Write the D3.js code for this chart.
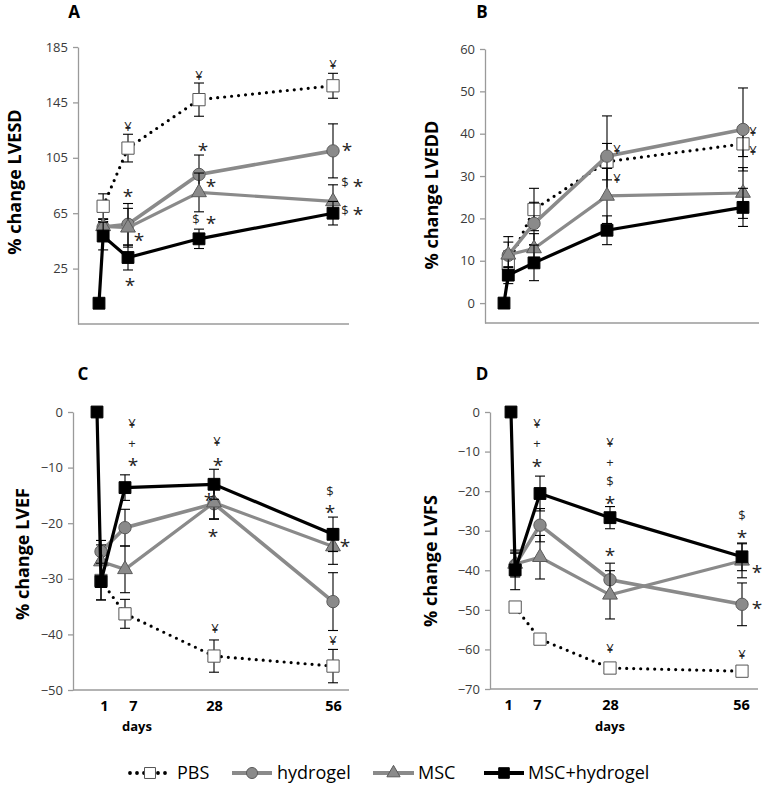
<!DOCTYPE html>
<html><head><meta charset="utf-8">
<script src="https://cdn.jsdelivr.net/npm/d3@7"></script>
<style>body{margin:0;background:#fff} svg{display:block}</style>
</head><body><svg id="c" width="764" height="793"></svg>
<script>
// ---------- data ----------
const days = [0, 1, 7, 28, 56];
const seriesNames = ["PBS", "hydrogel", "MSC", "MSC+hydrogel"];
const xTickLabels = [1, 7, 28, 56];

// order of rows: PBS, hydrogel, MSC, MSC+hydrogel
const lvesdMean = [
  [null, 70, 112, 147, 157],
  [null, 55, 57, 93, 110],
  [null, 55.5, 54.5, 80, 73.5],
  [0, 48.5, 33, 46.5, 65]
];
const lvesdErr = [
  [null, 9, 10, 12, 9],
  [null, 4, 15, 14, 19.5],
  [null, 5, 14, 14, 12],
  [0, 10, 9, 7, 8.5]
];
const lveddMean = [
  [null, 9.3, 22.1, 33.4, 37.6],
  [null, 11.3, 18.8, 34.7, 41],
  [null, 11.4, 12.9, 25.3, 26],
  [0, 6.6, 9.5, 17.2, 22.6]
];
const lveddErr = [
  [null, 3, 5, 4.3, 3],
  [null, 4.4, 5, 9.5, 9.8],
  [null, 3, 3.5, 6.5, 6],
  [0, 2, 4.2, 3.4, 4.5]
];
const lvefMean = [
  [null, -30.3, -36.3, -43.9, -45.7],
  [null, -25.1, -20.8, -16.5, -34.1],
  [null, -26.9, -28.3, -16.3, -24.2],
  [0, -30.5, -13.6, -13, -22]
];
const lvefErr = [
  [null, 3.5, 2.6, 2.9, 3],
  [null, 2, 3.3, 2.7, 5.2],
  [null, 3, 4.2, 3, 3.2],
  [0, 3.3, 2.3, 2.7, 3.1]
];
const lvfsMean = [
  [null, -49.3, -57.4, -64.7, -65.5],
  [null, -38.7, -28.6, -42.4, -48.6],
  [null, -38.4, -36.7, -46.2, -37.6],
  [0, -39.9, -20.6, -26.7, -36.6]
];
const lvfsErr = [
  [null, 0, 0, 0, 0],
  [null, 3, 4.2, 4.2, 5.4],
  [null, 3, 5.5, 6.1, 4.3],
  [0, 5, 4.4, 2.8, 3.5]
];

const lvesdTicks = [25, 65, 105, 145, 185];
const lveddTicks = [0, 10, 20, 30, 40, 50, 60];
const lvefTicks = [0, -10, -20, -30, -40, -50];
const lvfsTicks = [0, -10, -20, -30, -40, -50, -60, -70];

// significance marks: [day, value, symbol, pixel nudge]
const lvesdNotes = [
  [7, 128, "¥", 0], [28, 164.6, "¥", 0], [56, 172.5, "¥", 0],
  [7, 80, "*", 0], [7, 48, "*", 11], [7, 16, "*", 2],
  [28, 113, "*", 4], [28, 87, "*", 12], [28, 60.5, "$", -3], [28, 60.5, "*", 12],
  [56, 113, "*", 14], [56, 87, "$", 12], [56, 87, "*", 25], [56, 67, "$", 12], [56, 67, "*", 25]
];
const lveddNotes = [
  [28, 36.3, "¥", 10], [28, 29.4, "¥", 10], [56, 40.5, "¥", 10], [56, 36.1, "¥", 10]
];
const lvefNotes = [
  [7, -2, "¥", 7], [7, -5.6, "+", 7], [7, -8.9, "*", 8],
  [28, -5.3, "¥", 3], [28, -8.9, "*", 4], [28, -15.2, "*", -5], [28, -21.7, "*", -1],
  [56, -14.3, "$", -3], [56, -17.3, "*", -3], [56, -23.5, "*", 12],
  [28, -38.9, "¥", 1], [56, -41, "¥", 0]
];
const lvfsNotes = [
  [7, -2.9, "¥", -3], [7, -8, "+", -3], [7, -12.6, "*", -3],
  [28, -7.6, "¥", 0], [28, -12.6, "+", 0], [28, -17.4, "$", 0], [28, -22.1, "*", 0], [28, -35.3, "*", 0],
  [56, -26, "$", 0], [56, -30.7, "*", 0], [56, -39.5, "*", 15], [56, -48.6, "*", 15],
  [28, -59.7, "¥", 0], [56, -61.3, "¥", 0]
];

// ---------- layout ----------
const panels = [
  {letter: "A", lx: 74, ly: 18, title: "% change LVESD", tx: 15, ty: 182,
   mean: lvesdMean, err: lvesdErr, ticks: lvesdTicks, notes: lvesdNotes,
   yDomain: [-15, 185], yRange: [324, 47], axisX: 78, axisRight: 349,
   dayX: [99, 128, 199, 333], xLabels: false},
  {letter: "B", lx: 482, ly: 18, title: "% change LVEDD", tx: 432, ty: 195,
   mean: lveddMean, err: lveddErr, ticks: lveddTicks, notes: lveddNotes,
   yDomain: [-4.7, 60], yRange: [323, 49], axisX: 485, axisRight: 759,
   dayX: [504, 534, 607, 743], xLabels: false},
  {letter: "C", lx: 83, ly: 380, title: "% change LVEF", tx: 23, ty: 554,
   mean: lvefMean, err: lvefErr, ticks: lvefTicks, notes: lvefNotes,
   yDomain: [-50, 0], yRange: [690, 412], axisX: 73, axisRight: 349,
   dayX: [97, 125, 214, 333], xLabels: true, labelDx: [3, 8, 0, 0], daysX: 137},
  {letter: "D", lx: 482, ly: 380, title: "% change LVFS", tx: 431, ty: 561,
   mean: lvfsMean, err: lvfsErr, ticks: lvfsTicks, notes: lvfsNotes,
   yDomain: [-70, 0], yRange: [689, 412], axisX: 490, axisRight: 758,
   dayX: [511, 540, 610, 742], xLabels: true, labelDx: [-7, -3, 0, -1], daysX: 610}
];

const styles = [
  {stroke: "#000", width: 3.2, dash: "0 7", cap: "round", sym: d3.symbolSquare, size: 150, fill: "#fff", mstroke: "#555"},
  {stroke: "#8a8a8a", width: 3.6, dash: null, cap: "butt", sym: d3.symbolCircle, size: 120, fill: "#8a8a8a", mstroke: "#5a5a5a"},
  {stroke: "#8a8a8a", width: 3.2, dash: null, cap: "butt", sym: d3.symbolTriangle, size: 95, fill: "#8a8a8a", mstroke: "#5a5a5a"},
  {stroke: "#000", width: 3.2, dash: null, cap: "butt", sym: d3.symbolSquare, size: 140, fill: "#000", mstroke: "#000"}
];

const FONT = "'Open Sans', 'Noto Sans', sans-serif";
const svg = d3.select("#c").style("font-family", FONT);

panels.forEach(p => {
  const g = svg.append("g");
  const x = d3.scaleLinear().domain([0, 7, 28, 56]).range(p.dayX);
  const y = d3.scaleLinear().domain(p.yDomain).range(p.yRange);

  // y axis
  const ya = g.append("g").attr("transform", `translate(${p.axisX},0)`)
    .call(d3.axisLeft(y).tickValues(p.ticks).tickSize(5).tickSizeOuter(0).tickPadding(5));
  ya.select(".domain").attr("stroke", "#9a9a9a").attr("stroke-width", 1.3);
  ya.selectAll(".tick line").attr("stroke", "#9a9a9a").attr("stroke-width", 1.3);
  ya.selectAll(".tick text").attr("font-size", 13).attr("fill", "#3a3a3a").attr("font-family", FONT);

  // x axis line
  g.append("line").attr("x1", p.axisX).attr("x2", p.axisRight)
    .attr("y1", y(p.yDomain[0])).attr("y2", y(p.yDomain[0]))
    .attr("stroke", "#9a9a9a").attr("stroke-width", 1.3);
  if (p.xLabels) {
    const xa = g.append("g").attr("transform", `translate(0,${y(p.yDomain[0])})`)
      .call(d3.axisBottom(x).tickValues(xTickLabels).tickSize(0).tickPadding(11).tickFormat(d3.format("d")));
    xa.select(".domain").remove();
    xa.selectAll(".tick text").attr("font-size", 14.5).attr("font-weight", "bold")
      .attr("fill", "#000").attr("font-family", FONT)
      .attr("dx", (d, i) => p.labelDx[i]);
    g.append("text").attr("x", p.daysX).attr("y", 731).attr("text-anchor", "middle")
      .attr("font-size", 13).attr("font-weight", "bold").text("days");
  }

  // series
  p.mean.forEach((vals, si) => {
    const st = styles[si];
    const pts = days.map((d, i) => ({d, v: vals[i], e: p.err[si][i]})).filter(o => o.v !== null);
    const line = d3.line().x(o => x(o.d)).y(o => y(o.v));
    g.append("path").datum(pts).attr("d", line).attr("fill", "none")
      .attr("stroke", st.stroke).attr("stroke-width", st.width)
      .attr("stroke-dasharray", st.dash).attr("stroke-linecap", st.cap);
    const eb = g.append("g").attr("stroke", "#000").attr("stroke-width", 1.1);
    pts.filter(o => o.e > 0).forEach(o => {
      const cx = x(o.d);
      eb.append("line").attr("x1", cx).attr("x2", cx).attr("y1", y(o.v - o.e)).attr("y2", y(o.v + o.e));
      [o.v - o.e, o.v + o.e].forEach(v => eb.append("line")
        .attr("x1", cx - 5).attr("x2", cx + 5).attr("y1", y(v)).attr("y2", y(v)));
    });
    g.append("g").selectAll("path").data(pts).join("path")
      .attr("transform", o => `translate(${x(o.d)},${y(o.v)})`)
      .attr("d", d3.symbol().type(st.sym).size(st.size))
      .attr("fill", st.fill).attr("stroke", st.mstroke).attr("stroke-width", 1);
  });

  // significance symbols
  g.append("g").selectAll("text").data(p.notes).join("text")
    .attr("x", n => x(n[0]) + n[3]).attr("y", n => y(n[1]))
    .attr("dy", n => n[2] === "*" ? "0.56em" : "0.36em")
    .attr("text-anchor", "middle")
    .attr("font-size", n => n[2] === "*" ? 19 : 13)
    .attr("fill", "#222")
    .text(n => n[2]);

  // panel letter & title
  g.append("text").attr("x", p.lx).attr("y", p.ly).attr("text-anchor", "middle")
    .attr("font-size", 17).attr("font-weight", "bold").text(p.letter);
  g.append("text").attr("transform", `translate(${p.tx},${p.ty}) rotate(-90)`)
    .attr("text-anchor", "middle").attr("dy", "0.35em")
    .attr("font-size", 18).attr("font-weight", "bold").text(p.title);
});

// legend
const legendItems = [
  {x1: 130, x2: 170, tx: 177},
  {x1: 232, x2: 272, tx: 277},
  {x1: 373, x2: 414, tx: 418},
  {x1: 484, x2: 524, tx: 528}
];
const ly = 773;
const lg = svg.append("g");
seriesNames.forEach((name, i) => {
  const st = styles[i], it = legendItems[i];
  lg.append("line").attr("x1", it.x1).attr("x2", it.x2).attr("y1", ly).attr("y2", ly)
    .attr("stroke", st.stroke).attr("stroke-width", st.width + 0.6)
    .attr("stroke-dasharray", st.dash).attr("stroke-linecap", st.cap);
  lg.append("path").attr("transform", `translate(${(it.x1 + it.x2) / 2},${ly})`)
    .attr("d", d3.symbol().type(st.sym).size(st.size * 0.8))
    .attr("fill", st.fill).attr("stroke", st.mstroke).attr("stroke-width", 1);
  lg.append("text").attr("x", it.tx).attr("y", ly).attr("dy", "0.36em")
    .attr("font-size", 18).attr("fill", "#000").text(name);
});
</script>
</body></html>
